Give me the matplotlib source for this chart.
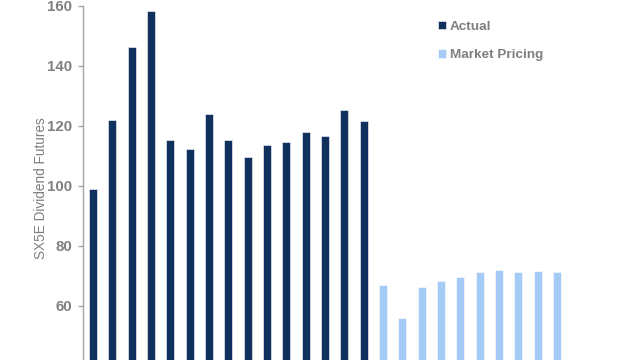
import matplotlib
matplotlib.use('Agg')
import matplotlib.pyplot as plt
import numpy as np

plt.rcParams['font.family'] = ['Liberation Sans', 'DejaVu Sans']

# bar heights
actual = [99.1, 121.9, 146.1, 158.2, 115.3, 112.3, 123.9, 115.3, 109.5,
          113.7, 114.5, 118.0, 116.5, 125.3, 121.7]
market = [66.9, 56.0, 66.4, 68.2, 69.5, 71.3, 72.0, 71.3, 71.6, 71.3]
yticks = [60, 80, 100, 120, 140, 160]

dark = '#10305e'
light = '#a4caf6'
grey = '#7f7f7f'

x_act = np.arange(len(actual))
x_mkt = np.arange(len(market)) + len(actual)

fig = plt.figure(figsize=(6.4, 3.6), dpi=100)
ax = fig.add_axes([83/640, 0, 1 - 83/640, 1 - 5.7/360])

b1 = ax.bar(x_act, actual, width=0.42, color=dark, edgecolor='white', linewidth=0.4, label='Actual')
b2 = ax.bar(x_mkt, market, width=0.42, color=light, edgecolor='white', linewidth=0.4, label='Market Pricing')

ax.set_ylim(42, 160)
ax.set_xlim(-0.52, 28.3)
ax.set_yticks(yticks)
ax.set_xticks([])

for s in ['top', 'right', 'bottom']:
    ax.spines[s].set_visible(False)
ax.spines['left'].set_color('#a6a6a6')
ax.spines['left'].set_linewidth(1.0)
ax.tick_params(axis='y', colors='#a6a6a6', length=3.5, width=1.0, pad=4.5,
               labelsize=10.8, labelcolor=grey)
for t in ax.get_yticklabels():
    t.set_fontweight('bold')

ax.set_ylabel('SX5E Dividend Futures', color=grey, fontsize=9.8)
ax.yaxis.set_label_coords(-35/557, 0.5 - (188 - 183) / 354)

leg = fig.legend(handles=[b1, b2], loc='upper left', bbox_to_anchor=(426/640, 1 - 9/360),
                 frameon=False, handlelength=0.55, handleheight=0.55, handletextpad=0.3,
                 labelspacing=1.2, prop={'size': 9.7, 'weight': 'bold'})
for t in leg.get_texts():
    t.set_color(grey)

fig.savefig('out.png', dpi=100)
